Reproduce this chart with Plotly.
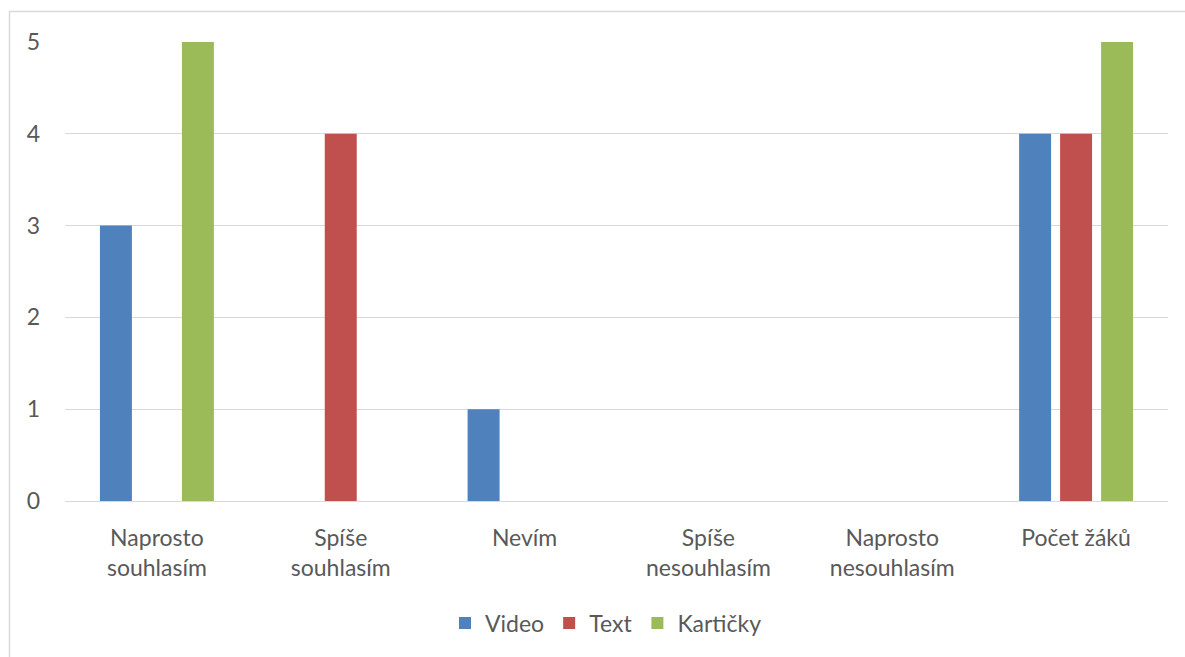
import plotly.graph_objects as go

categories = ["Naprosto<br>souhlasím", "Spíše<br>souhlasím", "Nevím",
              "Spíše<br>nesouhlasím", "Naprosto<br>nesouhlasím", "Počet žáků"]
video = [3, 0, 1, 0, 0, 4]
text = [0, 4, 0, 0, 0, 4]
karticky = [5, 0, 0, 0, 0, 5]
y_ticks = [0, 1, 2, 3, 4, 5]

series = [("Video", video, "#4f81bd"),
          ("Text", text, "#c0504d"),
          ("Kartičky", karticky, "#9bbb59")]

fig = go.Figure()
for name, vals, color in series:
    fig.add_trace(go.Bar(x=categories, y=vals, name=name,
                         marker=dict(color=color, line=dict(width=0))))

W, H = 1185, 657
L, R, T, B = 65, 17, 42, 156
pw, ph = W - L - R, H - T - B

def px(x):
    return (x - L) / pw

def py(y):
    return (H - B - y) / ph

FS = 23

fig.update_layout(
    width=W, height=H,
    margin=dict(l=L, r=R, t=T, b=B),
    paper_bgcolor="white", plot_bgcolor="white",
    font=dict(family="Lato", size=FS, color="#595959"),
    barmode="group", bargap=0.331, bargroupgap=0.22,
    showlegend=True,
    legend=dict(orientation="h", x=px(606), xanchor="center",
                y=py(623), yanchor="middle", font=dict(size=FS),
                itemwidth=30, traceorder="normal"),
    xaxis=dict(showgrid=False, showline=False, ticks="", tickfont=dict(size=FS),
               zeroline=False, ticklabelstandoff=21),
    yaxis=dict(range=[0, 5], tickvals=y_ticks, showgrid=True, gridcolor="#d9d9d9",
               gridwidth=1.3, zeroline=True, zerolinecolor="#d9d9d9", zerolinewidth=1.3,
               showline=False, ticks="", ticklabelstandoff=24,
               tickfont=dict(size=FS)),
    shapes=[dict(type="rect", xref="paper", yref="paper",
                 x0=px(9.5), x1=px(1200), y0=py(11.5), y1=py(700),
                 line=dict(color="#d9d9d9", width=1.5), layer="below")],
)

fig.write_html("out.html")
